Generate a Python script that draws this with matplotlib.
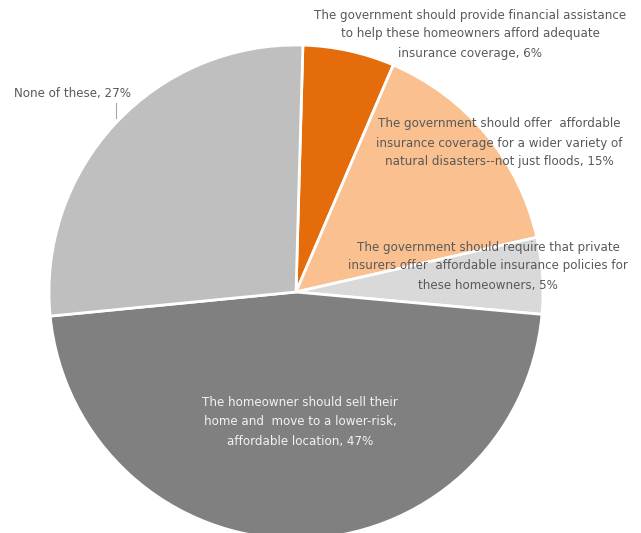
import matplotlib.pyplot as plt

# slice order clockwise from 12 o'clock
labels = [
    "The government should provide financial assistance\nto help these homeowners afford adequate\ninsurance coverage",
    "The government should offer  affordable\ninsurance coverage for a wider variety of\nnatural disasters--not just floods",
    "The government should require that private\ninsurers offer  affordable insurance policies for\nthese homeowners",
    "The homeowner should sell their\nhome and  move to a lower-risk,\naffordable location",
    "None of these",
]
values = [6, 15, 5, 47, 27]
colors = ["#E46C0A", "#FAC090", "#D9D9D9", "#808080", "#BFBFBF"]

W, H = 641, 533
fig = plt.figure(figsize=(W / 100, H / 100), dpi=100)
ax = fig.add_axes([0, 0, 1, 1])

# pie centre / radius in pixel space (y measured from the top of the image)
cx, cy, r = 296, 292, 247
ax.pie(values, colors=colors, startangle=88.4, counterclock=False,
       center=(cx, H - cy), radius=r,
       wedgeprops=dict(edgecolor="white", linewidth=2))
ax.set_xlim(0, W)
ax.set_ylim(0, H)
ax.set_aspect("equal")
ax.axis("off")

# label anchor positions (pixel, from top)
label_pos = [(470, 34), (499, 143), (488, 266), (300, 422), (73, 93)]
font = dict(family=["Liberation Sans Narrow", "DejaVu Sans"], fontsize=8.6)
for i, (lab, v) in enumerate(zip(labels, values)):
    x, y = label_pos[i]
    col = "#F2F2F2" if i == 3 else "#595959"
    ax.text(x, H - y, f"{lab}, {v}%", ha="center", va="center",
            multialignment="center", color=col, linespacing=1.6, **font)

# leader line for "None of these"
ax.plot([116, 116], [H - 103, H - 118], color="#A6A6A6", linewidth=0.8)

fig.savefig("out.png", dpi=100)
